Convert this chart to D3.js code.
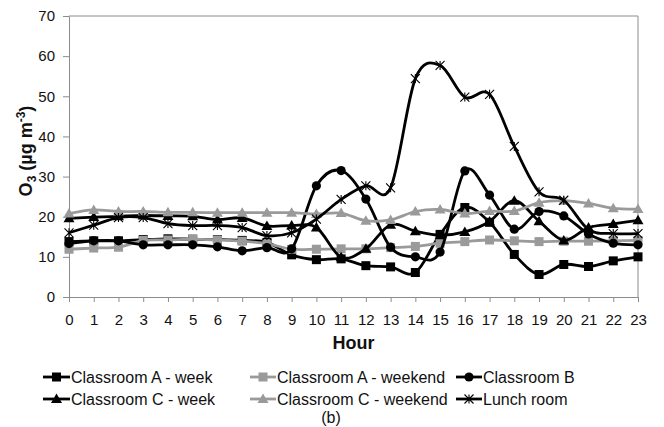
<!DOCTYPE html>
<html>
<head>
<meta charset="utf-8">
<script src="https://cdn.jsdelivr.net/npm/d3@7"></script>
<style>
  html, body { margin: 0; padding: 0; background: #fff; }
  svg { display: block; font-family: "Liberation Sans", Arial, sans-serif; }
</style>
</head>
<body>
<svg id="chart" width="664" height="427"></svg>
<script>
// Hourly O3 concentrations (µg m-3) in each room
const hours = d3.range(0, 24);
const yTicks = [0, 10, 20, 30, 40, 50, 60, 70];

const classroomAWeek    = [13.8, 14.0, 14.0, 14.3, 14.5, 14.4, 14.3, 14.1, 13.6, 10.5, 9.3, 9.5, 7.8, 7.5, 6.1, 15.6, 22.3, 18.6, 10.6, 5.6, 8.1, 7.6, 9.0, 10.0];
const classroomAWeekend = [11.9, 12.2, 12.4, 14.1, 14.2, 14.4, 14.2, 13.9, 13.3, 11.9, 11.9, 12.0, 12.0, 12.3, 12.6, 13.4, 13.8, 14.2, 14.0, 13.8, 13.9, 13.9, 14.0, 14.1];
const classroomB        = [13.3, 14.0, 14.0, 13.0, 13.0, 13.0, 12.5, 11.5, 12.3, 12.0, 27.7, 31.5, 24.4, 12.4, 10.0, 11.2, 31.4, 25.4, 16.9, 21.3, 20.2, 15.7, 13.4, 13.0];
const classroomCWeek    = [19.6, 19.9, 20.1, 20.3, 20.2, 20.1, 19.3, 19.7, 17.7, 17.8, 17.3, 9.9, 12.0, 18.0, 16.4, 15.4, 16.2, 18.8, 24.0, 18.9, 14.1, 17.3, 18.2, 19.1];
const classroomCWeekend = [20.8, 21.7, 21.3, 21.3, 21.1, 21.1, 21.0, 21.0, 21.0, 21.0, 20.7, 20.9, 19.0, 19.2, 21.3, 21.8, 20.8, 21.4, 21.4, 23.5, 24.0, 23.3, 22.1, 21.9];
const lunchRoom         = [16.0, 17.9, 19.8, 19.8, 18.3, 17.8, 17.8, 17.3, 15.3, 16.0, 19.4, 24.3, 27.7, 27.2, 54.4, 57.7, 49.8, 50.5, 37.5, 26.2, 24.1, 16.8, 15.8, 15.8];

const seriesNames = ["Classroom A - week", "Classroom A - weekend", "Classroom B",
                     "Classroom C - week", "Classroom C - weekend", "Lunch room"];
const seriesValues = [classroomAWeek, classroomAWeekend, classroomB,
                      classroomCWeek, classroomCWeekend, lunchRoom];
const seriesColors = ["#000", "#9a9a9a", "#000", "#000", "#9a9a9a", "#000"];
const seriesMarkers = ["square", "square", "circle", "triangle", "triangle", "star"];

const svg = d3.select("#chart");
const plotLeft = 69, plotRight = 638, plotTop = 16, plotBottom = 297;
const axisColor = "#8c8c8c";

const x = d3.scaleLinear().domain([0, 23]).range([plotLeft, plotRight]);
const y = d3.scaleLinear().domain([0, 70]).range([plotBottom, plotTop]);

// plot frame (top and right edges)
svg.append("path")
  .attr("d", `M${plotLeft},${plotTop}H${plotRight}V${plotBottom}`)
  .attr("fill", "none").attr("stroke", axisColor).attr("stroke-width", 1);

// axes
const yAxis = svg.append("g").attr("transform", `translate(${plotLeft},0)`)
  .call(d3.axisLeft(y).tickValues(yTicks).tickSize(6).tickPadding(8).tickSizeOuter(0));
const xAxis = svg.append("g").attr("transform", `translate(0,${plotBottom})`)
  .call(d3.axisBottom(x).tickValues(hours).tickSize(5).tickPadding(12).tickSizeOuter(0).tickFormat(d3.format("d")));
[yAxis, xAxis].forEach(g => {
  g.selectAll("path, line").attr("stroke", axisColor);
  g.selectAll("text").attr("fill", "#111").style("font-size", "15px")
    .style("font-family", '"Liberation Sans", Arial, sans-serif');
});

// axis titles
svg.append("text")
  .attr("x", (plotLeft + plotRight) / 2).attr("y", 349)
  .attr("text-anchor", "middle").attr("font-weight", "bold").attr("font-size", 18)
  .attr("fill", "#111").text("Hour");

const yTitle = svg.append("text")
  .attr("transform", "translate(32,151) rotate(-90)")
  .attr("text-anchor", "middle").attr("font-weight", "bold").attr("font-size", 18)
  .attr("fill", "#111");
yTitle.append("tspan").text("O");
yTitle.append("tspan").attr("font-size", 12).attr("dy", 4).text("3");
yTitle.append("tspan").attr("dy", -4).text(" (µg m");
yTitle.append("tspan").attr("font-size", 12).attr("dy", -7).text("-3");
yTitle.append("tspan").attr("dy", 7).text(")");

// marker drawing
function drawMarker(g, type, cx, cy, color) {
  if (type === "square") {
    g.append("rect").attr("x", cx - 4.5).attr("y", cy - 4.5)
      .attr("width", 9).attr("height", 9).attr("fill", color);
  } else if (type === "circle") {
    g.append("circle").attr("cx", cx).attr("cy", cy).attr("r", 4.6).attr("fill", color);
  } else if (type === "triangle") {
    g.append("path")
      .attr("d", `M${cx},${cy - 5.5}L${cx + 5.5},${cy + 4}L${cx - 5.5},${cy + 4}Z`)
      .attr("fill", color);
  } else if (type === "star") {
    const s = 4.5;
    g.append("path")
      .attr("d", `M${cx - s},${cy - s}L${cx + s},${cy + s}M${cx - s},${cy + s}L${cx + s},${cy - s}M${cx},${cy - s}V${cy + s}`)
      .attr("stroke", color).attr("stroke-width", 1.1).attr("fill", "none");
  }
}

const line = d3.line()
  .x((d, i) => x(hours[i]))
  .y(d => y(d))
  .curve(d3.curveCatmullRom.alpha(0));

// series: line then markers, in order
seriesValues.forEach((vals, si) => {
  const g = svg.append("g");
  g.append("path").attr("d", line(vals))
    .attr("fill", "none").attr("stroke", seriesColors[si])
    .attr("stroke-width", 2.8).attr("stroke-linejoin", "round");
  vals.forEach((v, i) => drawMarker(g, seriesMarkers[si], x(hours[i]), y(v), seriesColors[si]));
});

// legend
const legendCols = [[43, 71], [250, 277], [456, 483]];
const legendRows = [377, 399];
seriesNames.forEach((name, i) => {
  const col = legendCols[i % 3], rowY = legendRows[Math.floor(i / 3)];
  const g = svg.append("g");
  g.append("line").attr("x1", col[0]).attr("x2", col[1] - 1)
    .attr("y1", rowY).attr("y2", rowY)
    .attr("stroke", seriesColors[i]).attr("stroke-width", 2.8);
  drawMarker(g, seriesMarkers[i], (col[0] + col[1] - 1) / 2, rowY, seriesColors[i]);
  g.append("text").attr("x", col[1]).attr("y", rowY + 5.7)
    .attr("font-size", 16).attr("fill", "#111").text(name);
});

// panel caption
svg.append("text").attr("x", 331).attr("y", 423)
  .attr("text-anchor", "middle").attr("font-size", 16).attr("fill", "#111").text("(b)");
</script>
</body>
</html>
